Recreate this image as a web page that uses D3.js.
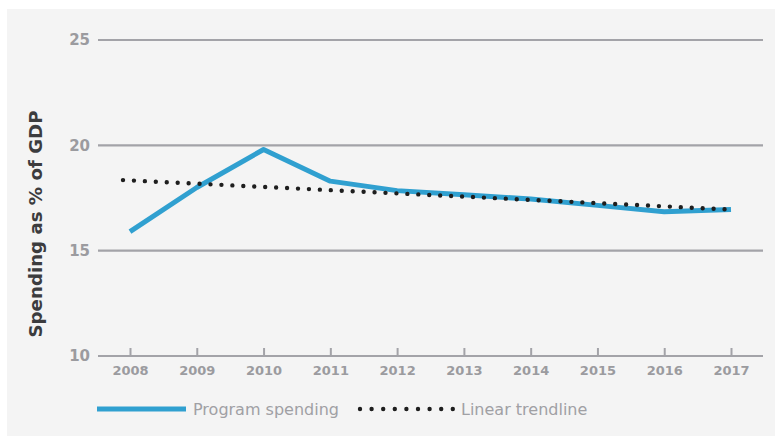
<!DOCTYPE html>
<html>
<head>
<meta charset="utf-8">
<script src="https://cdn.jsdelivr.net/npm/d3@7"></script>
<style>
  body { margin: 0; background: #fff; }
  svg { display: block; }
</style>
</head>
<body>
<script>
// values
var years = [2008, 2009, 2010, 2011, 2012, 2013, 2014, 2015, 2016, 2017];
var spending = [15.9, 18.0, 19.8, 18.3, 17.85, 17.65, 17.45, 17.15, 16.85, 16.95];
var trendYears = [2008, 2017];
var trendValues = [18.35, 16.95];
var yTicks = [10, 15, 20, 25];
var legendLabels = ["Program spending", "Linear trendline"];

var W = 775, H = 436;
var svg = d3.select("body").append("svg").attr("width", W).attr("height", H);

// light panel
svg.append("rect").attr("x", 7).attr("y", 9).attr("width", W - 7).attr("height", H - 9)
    .attr("fill", "#f4f4f4");

var font = "'DejaVu Sans', Verdana, sans-serif";
var gridCol = "#a3a3a8";

var xScale = d3.scalePoint().domain(years).range([130, 731]);
var yScale = d3.scaleLinear().domain([10, 25]).range([356, 40]);

// gridlines + y tick labels
var yAxis = svg.append("g");
yAxis.selectAll("line").data(yTicks).enter().append("line")
    .attr("x1", 98).attr("x2", 763)
    .attr("y1", function(d) { return yScale(d); })
    .attr("y2", function(d) { return yScale(d); })
    .attr("stroke", gridCol).attr("stroke-width", 2.2);
yAxis.selectAll("text").data(yTicks).enter().append("text")
    .attr("x", 90).attr("y", function(d) { return yScale(d); })
    .attr("dy", "0.36em")
    .attr("text-anchor", "end")
    .style("font-family", font).style("font-weight", "bold").style("font-size", "15px")
    .attr("fill", "#9b9b9f")
    .text(function(d) { return d; });

// x axis ticks
var xAxis = d3.axisBottom(xScale).tickSize(0).tickPadding(0);
var gx = svg.append("g").attr("transform", "translate(0,356)").call(xAxis);
gx.select(".domain").remove();
gx.selectAll(".tick line").remove();
gx.selectAll(".tick").append("line")
    .attr("y1", 0).attr("y2", -8)
    .attr("stroke", gridCol).attr("stroke-width", 2);
gx.selectAll(".tick text")
    .attr("y", 14).attr("dy", "0.36em")
    .style("font-family", font).style("font-weight", "bold").style("font-size", "13px")
    .attr("fill", "#9b9b9f");

// y label
svg.append("text")
    .attr("transform", "translate(42,224) rotate(-90)")
    .attr("text-anchor", "middle")
    .style("font-family", font).style("font-weight", "bold").style("font-size", "18.2px")
    .attr("fill", "#3c3c3e")
    .text("Spending as % of GDP");

// program spending line
var line = d3.line()
    .x(function(d) { return xScale(d[0]); })
    .y(function(d) { return yScale(d[1]); });

svg.append("path")
    .datum(d3.zip(years, spending))
    .attr("d", line)
    .attr("fill", "none")
    .attr("stroke", "#30a0d0")
    .attr("stroke-width", 5)
    .attr("stroke-linejoin", "round");

// trendline as dots (starts a little left of the first year)
var trendScaleX = d3.scaleLinear().domain([2008, 2017]).range([123, 731]);
svg.append("path")
    .datum(d3.zip(trendYears, trendValues))
    .attr("d", d3.line()
        .x(function(d) { return trendScaleX(d[0]); })
        .y(function(d) { return yScale(d[1]); }))
    .attr("fill", "none")
    .attr("stroke", "#1e1e1e")
    .attr("stroke-width", 4.4)
    .attr("stroke-linecap", "round")
    .attr("stroke-dasharray", "0 10.95");

// legend
var lg = svg.append("g").attr("transform", "translate(0,409)");
lg.append("line").attr("x1", 97).attr("x2", 186).attr("y1", 0).attr("y2", 0)
    .attr("stroke", "#30a0d0").attr("stroke-width", 5);
lg.append("text").attr("x", 193).attr("y", 0).attr("dy", "0.35em")
    .style("font-family", font).style("font-size", "16px").attr("fill", "#a0a0a4")
    .text(legendLabels[0]);
lg.append("line").attr("x1", 360).attr("x2", 453).attr("y1", 0).attr("y2", 0)
    .attr("stroke", "#1e1e1e").attr("stroke-width", 4.4)
    .attr("stroke-linecap", "round").attr("stroke-dasharray", "0 11.6");
lg.append("text").attr("x", 461).attr("y", 0).attr("dy", "0.35em")
    .style("font-family", font).style("font-size", "16px").attr("fill", "#a0a0a4")
    .text(legendLabels[1]);
</script>
</body>
</html>
